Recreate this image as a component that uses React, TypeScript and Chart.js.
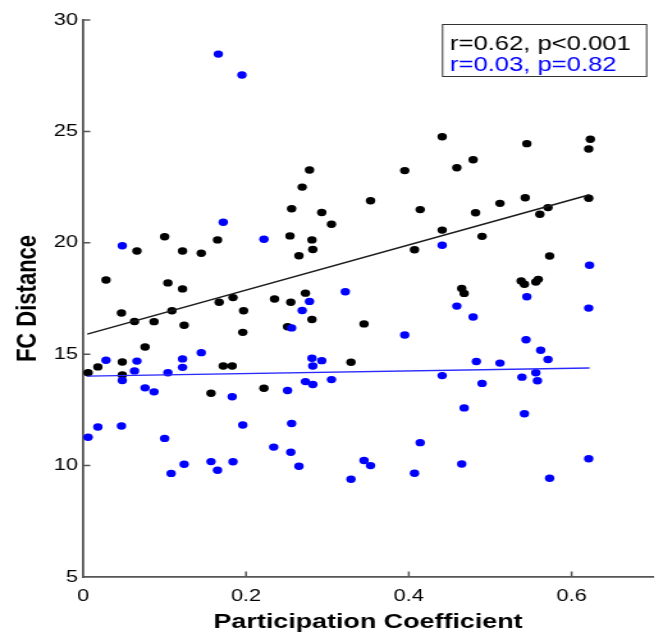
import React, { useEffect, useRef } from "react";
import { Chart, registerables } from "chart.js";

Chart.register(...registerables);

// ---------- data ----------
const xTickValues = [0, 0.2, 0.4, 0.6];
const yTickValues = [5, 10, 15, 20, 25, 30];

const blackX = [
  0.006, 0.018, 0.028, 0.047, 0.048, 0.048, 0.063, 0.066, 0.076, 0.087, 0.1, 0.104, 0.109,
  0.122, 0.122, 0.124, 0.145, 0.157, 0.165, 0.167, 0.172, 0.183, 0.184, 0.197, 0.196, 0.222,
  0.235, 0.251, 0.255, 0.254, 0.256, 0.265, 0.269, 0.273, 0.278, 0.281, 0.282, 0.281, 0.293,
  0.305, 0.329, 0.345, 0.353, 0.395, 0.407, 0.414, 0.441, 0.441, 0.459, 0.465, 0.468, 0.479,
  0.482, 0.49, 0.512, 0.538, 0.542, 0.543, 0.545, 0.556, 0.559, 0.561, 0.571, 0.573, 0.621,
  0.621, 0.623,
];
const blackY = [
  14.17, 14.43, 18.33, 16.85, 14.65, 14.07, 16.47, 19.63, 15.32, 16.46, 20.27, 18.2, 16.95,
  19.63, 17.93, 16.3, 19.53, 13.25, 20.13, 17.33, 14.47, 14.47, 17.54, 16.95, 15.98, 13.47,
  17.48, 16.23, 17.33, 20.31, 21.53, 19.42, 22.5, 17.74, 23.27, 20.13, 19.7, 16.56, 21.36,
  20.83, 14.64, 16.36, 21.89, 23.24, 19.69, 21.49, 24.76, 20.57, 23.37, 17.95, 17.73, 23.73,
  21.35, 20.29, 21.77, 18.29, 18.14, 22.02, 24.45, 18.24, 18.36, 21.28, 21.58, 19.41, 22.0,
  24.21, 24.65,
];

const blueX = [
  0.166, 0.195, 0.048, 0.172, 0.222, 0.028, 0.048, 0.066, 0.063, 0.076, 0.087, 0.104, 0.122,
  0.122, 0.145, 0.183, 0.251, 0.256, 0.269, 0.278, 0.281, 0.282, 0.293, 0.273, 0.282, 0.305,
  0.006, 0.018, 0.047, 0.1, 0.196, 0.234, 0.124, 0.108, 0.157, 0.165, 0.184, 0.255, 0.256,
  0.265, 0.322, 0.395, 0.459, 0.441, 0.414, 0.345, 0.353, 0.329, 0.407, 0.465, 0.468, 0.441,
  0.622, 0.545, 0.621, 0.479, 0.544, 0.562, 0.571, 0.483, 0.512, 0.539, 0.556, 0.558, 0.49,
  0.542, 0.573, 0.621,
];
const blueY = [
  28.47, 27.53, 19.87, 20.92, 20.16, 14.73, 13.82, 14.69, 14.25, 13.49, 13.31, 14.17, 14.79,
  14.41, 15.07, 13.09, 13.37, 16.18, 16.96, 17.37, 14.82, 14.47, 14.71, 13.77, 13.64, 13.86,
  11.27, 11.73, 11.78, 11.22, 11.82, 10.83, 10.06, 9.65, 10.18, 9.79, 10.17, 10.6, 11.89,
  9.97, 17.8, 15.86, 17.16, 14.04, 11.03, 10.23, 10.0, 9.39, 9.66, 10.07, 12.59, 19.89,
  18.99, 17.58, 17.07, 16.67, 15.65, 15.18, 14.76, 14.67, 14.6, 13.97, 14.17, 13.81, 13.69,
  12.33, 9.43, 10.31,
];

const fitX = [0.005, 0.622];
const blackFitY = [15.9, 22.16];
const blueFitY = [14.02, 14.38];

const statLabels = ["r=0.62, p<0.001", "r=0.03, p=0.82"];
const statColors = ["#000000", "#0000ff"];
const xTitle = "Participation Coefficient";
const yTitle = "FC Distance";

// ---------- layout / style ----------
const OUT_W = 663;
const OUT_H = 637;
const W = 518; // internal canvas width (the reference is stretched horizontally)
const H = 637;
const FONT = "'Liberation Sans', Arial, Helvetica, sans-serif";
const AXIS = "#555555";

const toPoints = (xs: number[], ys: number[]) =>
  xs.slice(0, Math.min(xs.length, ys.length)).map((x, i) => ({ x, y: ys[i] }));

const decorPlugin = {
  id: "decor",
  afterDraw(chart: any) {
    const ctx = chart.ctx as CanvasRenderingContext2D;
    const ca = chart.chartArea;
    const xs = chart.scales.x;
    const ys = chart.scales.y;
    ctx.save();
    // inward tick marks
    ctx.strokeStyle = AXIS;
    ctx.lineWidth = 1.5;
    ctx.beginPath();
    xTickValues.forEach((v) => {
      if (v === xs.min) return;
      const px = xs.getPixelForValue(v);
      ctx.moveTo(px, ca.bottom);
      ctx.lineTo(px, ca.bottom - 5.5);
    });
    yTickValues.forEach((v) => {
      if (v === ys.min) return;
      const py = ys.getPixelForValue(v);
      ctx.moveTo(ca.left, py);
      ctx.lineTo(ca.left + 5.5, py);
    });
    ctx.stroke();

    // stats box
    const bw = 159.4;
    const bh = 52;
    const bx = ca.right - 5.5 - bw;
    const by = ca.top + 4;
    ctx.fillStyle = "#ffffff";
    ctx.fillRect(bx, by, bw, bh);
    ctx.strokeStyle = "#333333";
    ctx.lineWidth = 1;
    ctx.strokeRect(bx + 0.5, by + 0.5, bw, bh);
    ctx.font = `20px ${FONT}`;
    ctx.textAlign = "left";
    ctx.textBaseline = "alphabetic";
    statLabels.forEach((t, i) => {
      ctx.fillStyle = statColors[i];
      ctx.fillText(t, bx + 6.3, by + 26 + i * 21);
    });
    ctx.restore();
  },
};

export default function App() {
  const canvasRef = useRef<HTMLCanvasElement | null>(null);

  useEffect(() => {
    const canvas = canvasRef.current;
    if (!canvas) return;
    const chart = new Chart(canvas, {
      type: "scatter",
      data: {
        datasets: [
          {
            label: "blue fit",
            data: toPoints(fitX, blueFitY),
            showLine: true,
            borderColor: "#2a2aff",
            borderWidth: 1.3,
            pointRadius: 0,
            order: 0,
          },
          {
            label: "black fit",
            data: toPoints(fitX, blackFitY),
            showLine: true,
            borderColor: "#1a1a1a",
            borderWidth: 1.5,
            pointRadius: 0,
            order: 1,
          },
          {
            label: "blue",
            data: toPoints(blueX, blueY),
            backgroundColor: "#0000ff",
            pointBackgroundColor: "#0000ff",
            pointBorderWidth: 0,
            pointRadius: 3.7,
            order: 2,
          },
          {
            label: "black",
            data: toPoints(blackX, blackY),
            backgroundColor: "#000000",
            pointBackgroundColor: "#000000",
            pointBorderWidth: 0,
            pointRadius: 3.7,
            order: 3,
          },
        ],
      } as any,
      options: {
        animation: false,
        responsive: false,
        devicePixelRatio: 1,
        events: [],
        layout: { padding: { top: 20, right: W - 510.2, bottom: 0, left: 0 } },
        plugins: {
          legend: { display: false },
          tooltip: { enabled: false },
          title: { display: false },
        },
        scales: {
          x: {
            type: "linear",
            min: 0,
            max: 0.7,
            afterBuildTicks: (s: any) => {
              s.ticks = xTickValues.map((v) => ({ value: v }));
            },
            afterFit: (s: any) => {
              s.height = 60;
            },
            grid: { display: false, drawTicks: false },
            border: { display: true, color: AXIS, width: 1.8 },
            ticks: {
              autoSkip: false,
              maxRotation: 0,
              padding: 9,
              color: "#000000",
              font: { family: FONT, size: 17 },
              callback: (v: any) => String(v),
            },
            title: {
              display: true,
              text: xTitle,
              color: "#000000",
              font: { family: FONT, size: 21, weight: "bold" },
              padding: { top: 0, bottom: 2.4 },
            },
          },
          y: {
            type: "linear",
            min: 5,
            max: 30,
            afterBuildTicks: (s: any) => {
              s.ticks = yTickValues.map((v) => ({ value: v }));
            },
            afterFit: (s: any) => {
              s.width = 65;
            },
            grid: { display: false, drawTicks: false },
            border: { display: true, color: AXIS, width: 1.8 },
            ticks: {
              autoSkip: false,
              padding: 4,
              color: "#000000",
              font: { family: FONT, size: 17 },
              callback: (v: any) => String(v),
            },
            title: {
              display: true,
              text: yTitle,
              color: "#000000",
              font: { family: FONT, size: 22, weight: "bold" },
              padding: { top: 9, bottom: 0 },
            },
          },
        },
      } as any,
      plugins: [decorPlugin],
    });
    return () => chart.destroy();
  }, []);

  return (
    <div
      style={{
        position: "absolute",
        left: 0,
        top: 0,
        width: OUT_W,
        height: OUT_H,
        background: "#ffffff",
      }}
    >
      <canvas
        ref={canvasRef}
        width={W}
        height={H}
        style={{ width: `${OUT_W}px`, height: `${OUT_H}px`, display: "block" }}
      />
    </div>
  );
}
